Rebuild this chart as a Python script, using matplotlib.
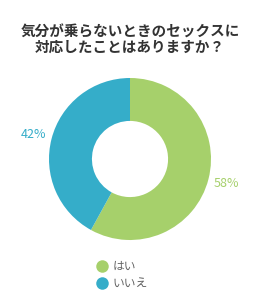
import matplotlib
matplotlib.use("Agg")
import matplotlib.pyplot as plt
from matplotlib.lines import Line2D

plt.rcParams['font.family'] = ['Noto Sans CJK JP', 'DejaVu Sans']

title = "気分が乗らないときのセックスに\n対応したことはありますか？"
categories = ["はい", "いいえ"]
values = [58, 42]
colors = ["#a6d06b", "#35adc9"]

fig = plt.figure(figsize=(2.6, 3.0), dpi=100)
fig.patch.set_facecolor("white")

# donut centered at ~(130,159) px, outer radius ~81 px
ax = fig.add_axes([(130 - 81) / 260, (300 - 159 - 81) / 300, 162 / 260, 162 / 300])
wedges, texts = ax.pie(values, colors=colors, startangle=90, counterclock=False,
                       labels=[f"{v}%" for v in values], labeldistance=1.23,
                       wedgeprops=dict(width=0.53, edgecolor="none"),
                       textprops=dict(fontsize=9))
for t, c in zip(texts, colors):
    t.set_color(c)
    t.set_horizontalalignment("center")
ax.set_xlim(-1, 1)
ax.set_ylim(-1, 1)
ax.set_aspect("equal")
ax.axis("off")

fig.text(0.5, 1 - 39 / 300, title, ha="center", va="center", fontsize=10.5,
         fontweight="bold", color="#333333", linespacing=0.95)

handles = [Line2D([], [], marker="o", linestyle="none", markersize=9,
                  markerfacecolor=c, markeredgecolor="none") for c in colors]
fig.legend(handles, categories, loc="center", bbox_to_anchor=(0.47, 1 - 275 / 300),
           frameon=False, fontsize=8.5, labelcolor="#666666", handletextpad=0.4,
           labelspacing=0.35, handlelength=1.0)

fig.savefig("out.png", dpi=100, facecolor="white")
